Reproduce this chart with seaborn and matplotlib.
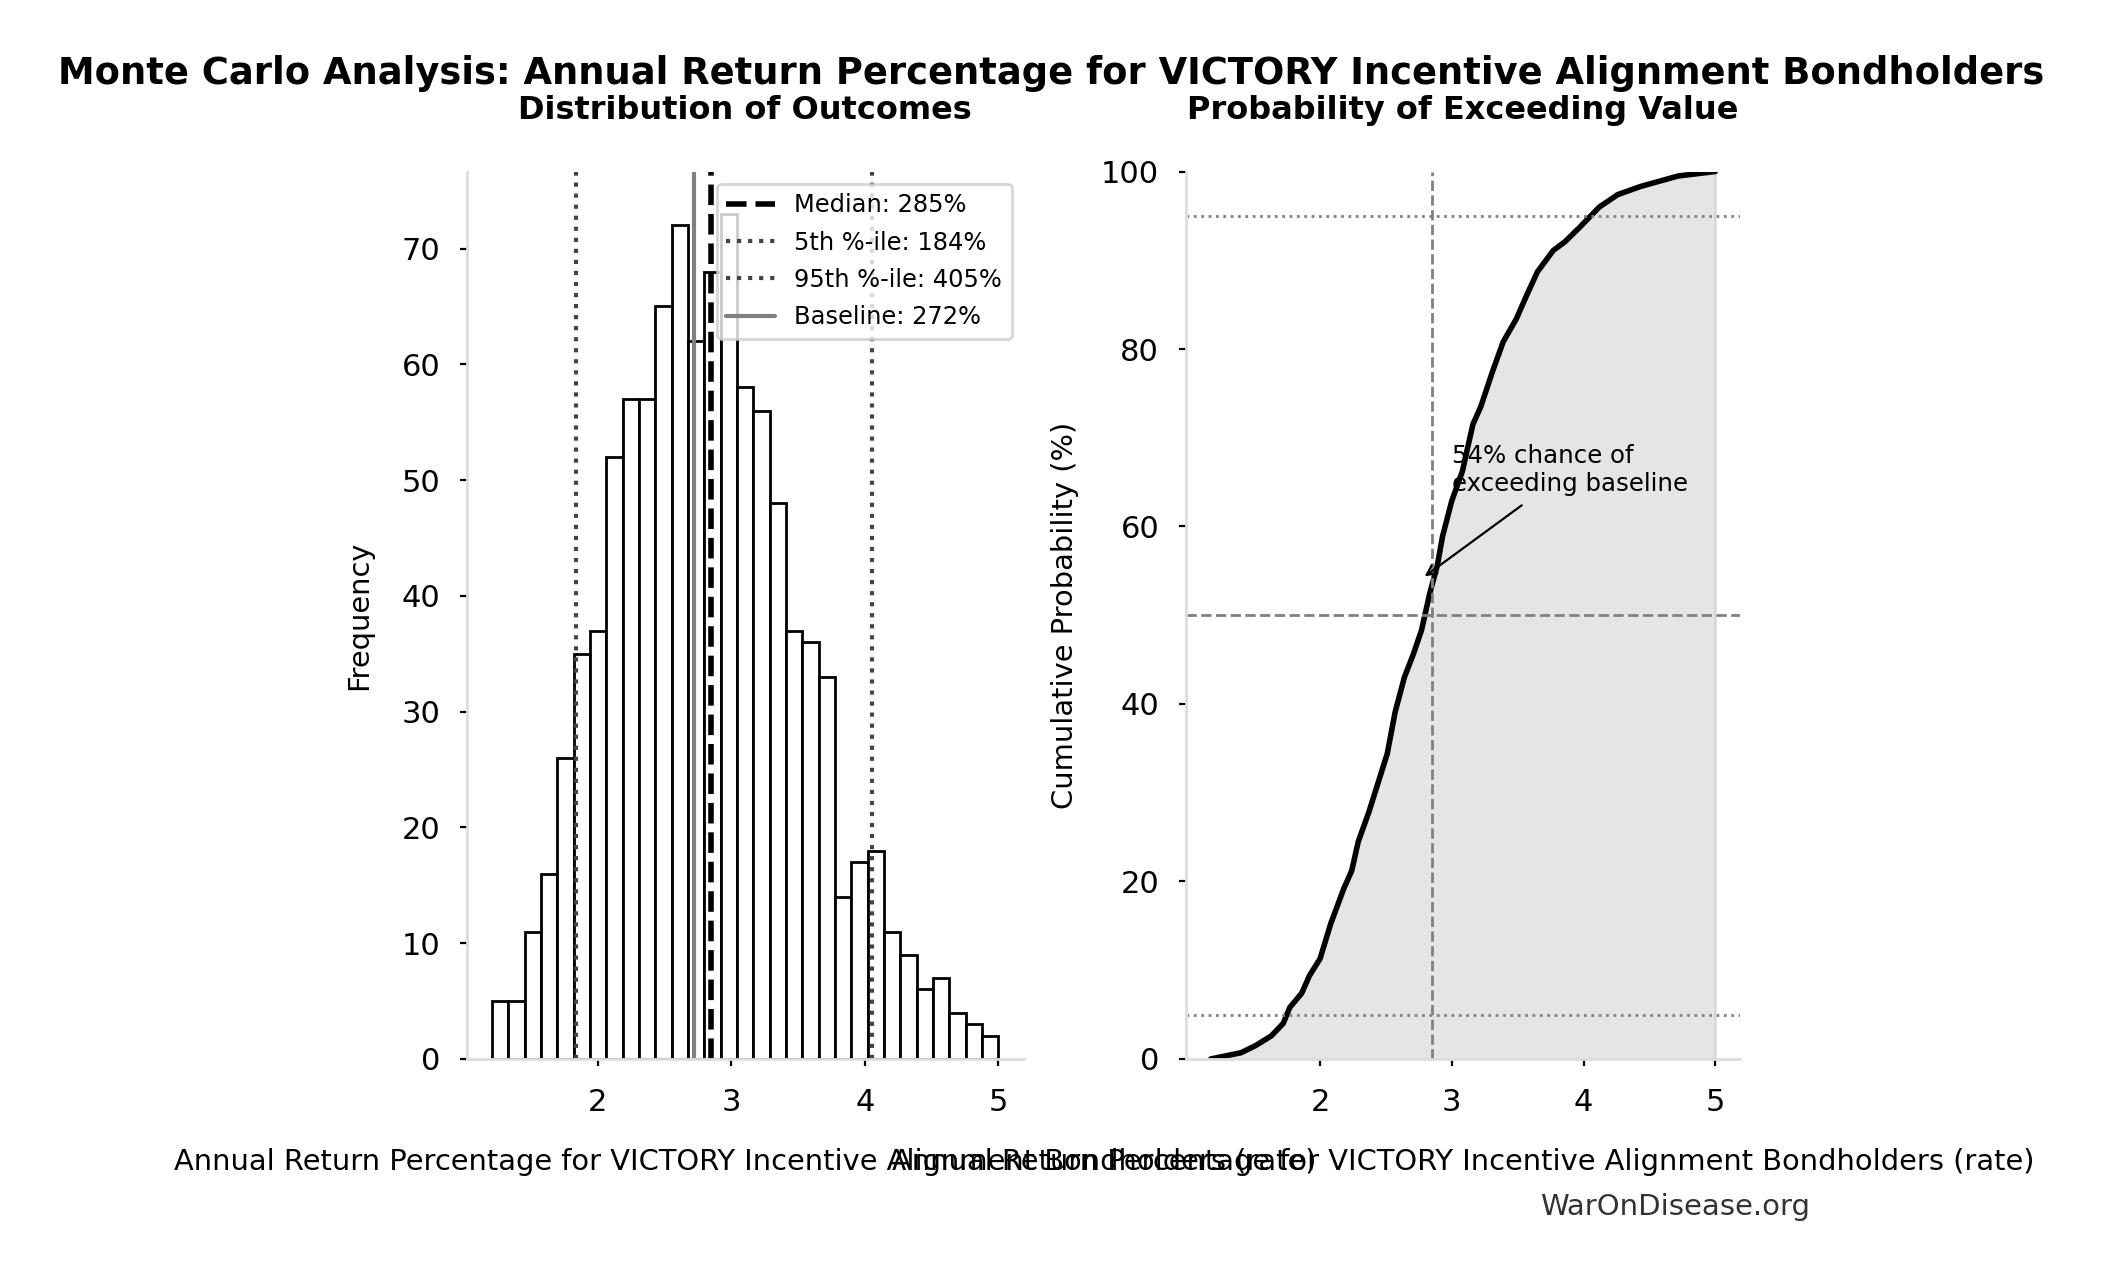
import numpy as np
import pandas as pd
import seaborn as sns
import matplotlib.pyplot as plt

# Histogram of simulated annual return (rate)
bin_lo = 1.207
bin_hi = 5.0
counts = [5, 5, 11, 16, 26, 35, 37, 52, 57, 57, 65, 72, 62, 68, 73, 58,
          56, 48, 37, 36, 33, 14, 17, 18, 11, 9, 6, 7, 4, 3, 2]

median_val = 2.85
p5_val = 1.84
p95_val = 4.05
baseline_val = 2.72
pct_exceed = 54

# Cumulative curve
cdf_x = [1.17, 1.40, 1.51, 1.63, 1.72, 1.77, 1.86, 1.92, 2.00, 2.08, 2.18,
         2.24, 2.29, 2.37, 2.44, 2.51, 2.57, 2.64, 2.71, 2.77, 2.83, 2.89,
         2.93, 3.00, 3.08, 3.16, 3.22, 3.31, 3.39, 3.49, 3.57, 3.65, 3.77,
         3.86, 3.97, 4.12, 4.26, 4.43, 4.55, 4.72, 5.00]
cdf_pct = [0.0, 0.7, 1.5, 2.6, 4.0, 5.8, 7.4, 9.4, 11.3, 15.2, 19.2,
           21.2, 24.5, 27.8, 31.1, 34.4, 39.1, 43.0, 45.7, 48.3, 52.3, 55.6,
           58.9, 62.9, 66.2, 71.5, 73.5, 77.5, 80.8, 83.4, 86.1, 88.7, 91.1,
           92.1, 93.7, 96.0, 97.4, 98.3, 98.8, 99.5, 100.0]

metric = "Annual Return Percentage for VICTORY Incentive Alignment Bondholders"

edges = np.linspace(bin_lo, bin_hi, len(counts) + 1)
centers = (edges[:-1] + edges[1:]) / 2
hist_df = pd.DataFrame({"value": centers, "count": counts})
cdf_df = pd.DataFrame({"value": cdf_x, "pct": cdf_pct})

sns.set_style("ticks")
plt.rcParams["font.family"] = ["DejaVu Sans"]
plt.rcParams["text.color"] = "black"
plt.rcParams["axes.labelcolor"] = "black"
plt.rcParams["xtick.color"] = "black"
plt.rcParams["ytick.color"] = "black"
plt.rcParams["axes.edgecolor"] = "#dddddd"
plt.rcParams["axes.linewidth"] = 1.0
plt.rcParams["xtick.major.size"] = 2.5
plt.rcParams["ytick.major.size"] = 2.5
plt.rcParams["xtick.major.pad"] = 8
plt.rcParams["ytick.major.pad"] = 7
plt.rcParams["xtick.labelsize"] = 11
plt.rcParams["ytick.labelsize"] = 11

fig = plt.figure(figsize=(10.51, 6.4), dpi=200)
ax1 = fig.add_axes([0.222, 0.1727, 0.265, 0.6933])
ax2 = fig.add_axes([0.564, 0.1727, 0.264, 0.6933])

# Left: distribution
sns.histplot(data=hist_df, x="value", weights="count", bins=len(counts),
             binrange=(bin_lo, bin_hi), ax=ax1,
             color="white", edgecolor="black", linewidth=1.0, alpha=1)
ax1.axvline(median_val, color="black", linestyle="--", linewidth=2,
            label=f"Median: {median_val*100:.0f}%")
ax1.axvline(p5_val, color="#444444", linestyle=":", linewidth=1.5,
            label=f"5th %-ile: {p5_val*100:.0f}%")
ax1.axvline(p95_val, color="#444444", linestyle=":", linewidth=1.5,
            label=f"95th %-ile: {p95_val*100:.0f}%")
ax1.axvline(baseline_val, color="gray", linestyle="-", linewidth=1.5,
            label=f"Baseline: {baseline_val*100:.0f}%")
ax1.set_title("Distribution of Outcomes", fontweight="bold", fontsize=11.5, pad=19)
ax1.set_xlabel(metric + " (rate)", fontsize=10.4, labelpad=11)
ax1.set_ylabel("Frequency", fontsize=10.4, labelpad=10)
ax1.legend(loc="upper right", fontsize=8.7, labelspacing=0.55)
ax1.set_xticks([2, 3, 4, 5])
sns.despine(ax=ax1)

# Right: cumulative probability
ax2.fill_between(cdf_df["value"], cdf_df["pct"], color="gray", alpha=0.2)
sns.lineplot(data=cdf_df, x="value", y="pct", ax=ax2, color="black", linewidth=2)
ax2.axvline(median_val, color="gray", linestyle="--", linewidth=1)
ax2.axhline(50, color="gray", linestyle="--", linewidth=1)
ax2.axhline(5, color="gray", linestyle=":", linewidth=1)
ax2.axhline(95, color="gray", linestyle=":", linewidth=1)
ax2.annotate(f"{pct_exceed}% chance of\nexceeding baseline",
             xy=(baseline_val + 0.04, pct_exceed), xytext=(3.0, 64),
             fontsize=8.8, arrowprops=dict(arrowstyle="->", color="black", lw=0.8))
ax2.set_ylim(0, 100)
ax2.set_xticks([2, 3, 4, 5])
ax2.set_title("Probability of Exceeding Value", fontweight="bold", fontsize=11.5, pad=19)
ax2.set_xlabel(metric + " (rate)", fontsize=10.4, labelpad=11)
ax2.set_ylabel("Cumulative Probability (%)", fontsize=10.4, labelpad=8)
sns.despine(ax=ax2)

fig.suptitle("Monte Carlo Analysis: " + metric, fontweight="bold", fontsize=13.3, y=0.957)
fig.text(0.797, 0.0574, "WarOnDisease.org", ha="center", va="center",
         fontsize=10.5, color="#333333")

fig.savefig("out.png", dpi=200)
